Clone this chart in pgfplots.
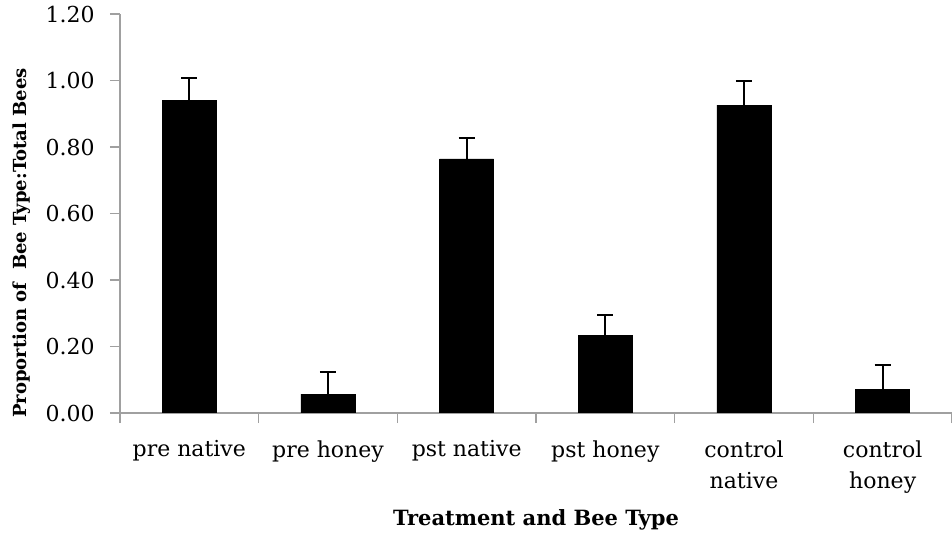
\documentclass[border=0pt]{standalone}
\usepackage{fontspec}
\setmainfont{DejaVu Serif}
\usepackage{pgfplots}
\pgfplotsset{compat=1.18}
\definecolor{axgray}{RGB}{160,160,160}
\begin{document}
\fontsize{11bp}{15.5bp}\selectfont
\begin{tikzpicture}
\begin{axis}[
  scale only axis, width=416bp, height=199.5bp,
  xmin=0, xmax=6, ymin=0, ymax=1.2,
  axis lines*=left,
  axis line style={draw=axgray, line width=0.8bp},
  tick align=outside,
  major tick length=5bp, minor tick length=5bp,
  tick style={draw=axgray, line width=0.8bp},
  /pgf/number format/assume math mode=true,
  ytick={0,0.2,0.4,0.6,0.8,1.0,1.2},
  yticklabel style={/pgf/number format/fixed, /pgf/number format/fixed zerofill, /pgf/number format/precision=2},
  yticklabel style={inner sep=0pt, xshift=-7.5bp},
  xtick={0.5,1.5,2.5,3.5,4.5,5.5},
  xticklabels={pre native, pre honey, pst native, pst honey, control\\native, control\\honey},
  major x tick style={draw=none},
  minor xtick={0,1,2,3,4,5,6},
  xticklabel style={align=center, inner sep=0pt, yshift=-8.5bp, font=\fontsize{11bp}{15.5bp}\selectfont},
  ticklabel style={font=\fontsize{11bp}{15.5bp}\selectfont},
  xlabel={\textbf{Treatment and Bee Type}},
  xlabel style={at={(axis description cs:0.5,-0.2807)}, anchor=base, font=\fontsize{10.5bp}{13bp}\selectfont},
  ylabel={\textbf{Proportion of\ \ Bee Type:Total Bees}},
  ylabel style={at={(axis description cs:-0.118,0.426)}, anchor=center, font=\fontsize{9bp}{11bp}\selectfont},
]
\addplot[ybar, bar width=0.39, fill=black, draw=black,
  error bars/.cd, y dir=plus, y explicit,
  error bar style={line width=1bp, black},
  error mark options={rotate=90, mark size=4bp, line width=1bp, black}]
  table[x=x, y=y, y error=e] {
x   y     e
0.5 0.941 0.066
1.5 0.057 0.066
2.5 0.764 0.063
3.5 0.232 0.063
4.5 0.926 0.072
5.5 0.072 0.072
};
\end{axis}
\pgfresetboundingbox
\useasboundingbox (-60bp,-63bp) rectangle (416bp,206.5bp);
\end{tikzpicture}
\end{document}
